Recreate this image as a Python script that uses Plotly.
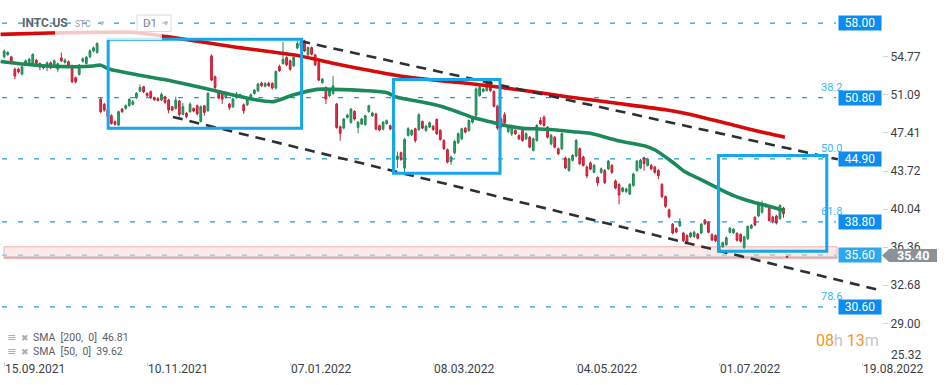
import plotly.graph_objects as go

# ---------------- data (bar index = trading day since 15.09.2021) ----------------
opens = [54.75,54.97,54.75,53.56,53.56,53.08,54.01,53.95,54.01,54.43,54.11,53.88,53.95,54.17,53.95,53.56,54.65,54.20,54.27,53.88,
         52.73,53.05,54.33,54.11,54.75,55.33,55.17,50.67,50.16,49.61,49.06,48.48,48.16,49.71,49.77,50.03,50.16,50.80,51.44,51.86,
         51.22,51.38,50.83,50.73,50.57,50.89,50.57,49.93,49.77,50.48,49.19,49.29,49.45,49.77,50.02,48.51,50.02,49.54,54.84,52.82,
         51.31,51.15,50.83,50.18,49.93,50.83,50.90,50.12,50.12,50.83,51.21,51.47,52.20,51.90,52.20,52.17,51.73,53.82,54.10,54.68,
         54.36,53.88,55.60,55.80,56.29,54.94,55.64,54.94,54.20,52.27,51.79,50.99,51.20,50.18,47.99,47.87,48.90,48.42,49.48,47.93,
         48.26,48.20,49.48,49.06,49.22,48.10,47.77,48.30,48.10,47.60,44.84,45.48,44.00,47.16,47.22,47.80,47.74,48.50,47.64,47.96,
         48.05,48.70,47.64,46.67,45.77,44.65,45.48,46.45,46.83,47.86,47.64,48.44,49.08,51.01,51.40,51.49,52.46,51.40,49.98,48.76,
         49.15,47.54,47.32,47.64,47.16,47.64,46.83,46.99,45.71,46.67,48.60,48.92,47.96,46.35,46.99,45.87,45.87,44.97,43.78,44.75,
         45.16,45.87,45.07,44.10,44.50,43.60,43.09,43.59,43.76,43.93,44.26,42.76,42.42,41.75,41.75,41.50,42.32,43.76,44.00,45.00,
         44.26,44.26,44.10,43.76,42.42,41.25,39.97,38.57,38.16,38.43,37.73,37.49,37.39,37.39,37.63,37.73,38.97,38.73,37.56,37.49,
         35.95,36.40,36.59,37.80,37.75,37.70,37.60,36.35,37.19,38.20,39.25,39.37,39.74,40.50,40.21,39.27,39.37,39.14,40.14,35.45]
highs = [55.45,55.30,54.85,53.70,53.70,53.90,54.50,54.65,55.10,54.55,54.20,54.00,54.30,54.30,54.50,54.20,55.17,54.60,54.40,54.00,
         52.85,54.05,54.70,54.85,55.45,55.75,56.15,50.80,50.30,49.70,49.20,48.60,49.55,49.80,50.15,50.75,50.60,51.35,52.08,51.95,
         51.30,51.50,50.90,50.85,51.30,51.00,50.70,50.00,50.90,50.60,50.30,49.40,50.35,49.85,50.15,50.05,50.10,51.35,55.00,52.95,
         51.45,51.25,51.40,50.30,50.80,51.35,51.20,50.25,50.80,51.20,51.65,52.25,52.35,52.30,52.35,52.30,53.45,54.00,56.20,54.80,
         54.50,54.80,56.29,56.30,56.40,55.75,55.75,55.05,54.30,52.70,51.90,51.60,52.90,50.30,48.10,48.85,49.25,49.80,49.60,48.55,
         48.85,49.15,50.12,49.45,49.35,48.20,48.55,48.70,48.20,47.70,45.60,45.60,46.90,47.95,47.75,47.90,49.30,48.60,48.20,48.50,
         48.15,48.80,47.75,46.80,45.90,45.20,46.70,47.45,47.90,47.95,48.70,48.90,51.80,52.00,51.75,52.62,52.60,51.50,50.10,48.90,
         49.40,48.15,48.20,47.75,47.25,47.75,47.45,47.10,46.95,48.25,48.92,49.10,48.05,47.30,47.10,46.00,47.45,45.10,45.00,45.35,
         46.80,46.00,45.20,44.25,44.65,44.40,43.20,44.05,43.90,44.80,44.40,42.90,42.55,42.20,42.10,42.55,43.55,44.80,44.90,45.10,
         45.00,44.40,44.20,43.90,42.55,41.35,40.10,38.70,38.30,39.17,37.85,37.60,37.85,37.95,37.75,38.70,39.10,38.85,37.70,37.60,
         36.65,36.90,37.40,38.30,38.20,37.80,37.70,37.45,38.45,38.60,39.35,40.75,40.85,40.60,40.30,39.40,39.50,40.50,40.25,35.50]
lows = [54.60,54.85,54.01,52.60,53.15,52.95,53.90,53.85,53.90,54.00,53.47,53.55,53.37,53.55,53.85,53.30,54.25,54.10,53.80,52.20,
        52.18,52.95,54.20,54.00,54.65,55.20,55.05,49.30,49.45,48.80,48.20,48.10,48.05,49.35,49.65,49.95,50.05,50.70,51.35,51.25,
        50.90,50.70,50.50,50.45,50.45,50.20,49.29,49.50,49.65,48.97,49.10,48.81,49.35,49.40,49.10,48.40,49.06,49.45,52.40,51.60,
        50.65,50.20,50.70,49.60,49.80,50.70,50.85,49.22,50.00,50.70,51.10,51.35,51.85,51.80,51.85,51.60,51.60,53.30,54.00,53.85,
        53.40,53.75,55.50,55.50,55.20,54.85,54.90,53.85,52.40,52.15,50.20,50.85,51.10,47.80,46.65,47.75,48.80,48.30,48.60,47.36,
        48.15,48.10,49.35,48.95,47.65,47.55,47.65,48.20,47.65,45.45,44.00,44.70,43.60,47.05,47.10,46.45,47.60,47.75,47.50,47.85,
        47.60,47.20,46.65,45.75,44.45,44.33,45.35,46.35,46.70,47.35,47.50,48.30,48.95,50.90,51.30,51.40,51.35,49.85,47.70,47.85,
        48.25,47.40,47.10,47.20,46.70,46.55,46.70,45.90,45.60,46.55,48.15,48.00,46.85,46.20,45.90,45.25,45.75,43.90,43.65,44.65,
        45.05,44.30,44.15,43.00,43.80,43.50,42.25,43.45,42.45,43.80,43.45,41.95,40.50,41.65,41.60,41.40,42.20,43.65,43.90,43.76,
        44.15,43.80,43.45,42.92,41.10,40.15,39.15,37.60,37.70,38.30,36.85,36.70,37.25,37.25,37.10,37.60,38.50,37.70,36.95,36.85,
        35.85,36.30,36.50,37.70,37.65,36.90,36.80,36.20,37.05,38.10,38.40,39.25,39.60,40.20,38.85,38.65,38.55,39.00,39.20,35.35]
closes = [55.30,55.17,54.36,52.89,53.30,53.79,54.36,54.52,54.97,54.11,53.79,53.69,54.17,53.69,54.36,54.08,54.36,54.43,53.88,52.34,
          52.34,53.95,54.56,54.72,55.33,55.62,56.03,49.45,49.61,48.97,48.32,48.23,49.45,49.45,50.03,50.64,50.41,51.22,51.79,51.38,
          50.99,50.80,50.60,50.54,51.12,50.35,49.61,49.61,50.57,49.19,49.93,48.97,50.16,49.51,49.25,49.93,49.38,51.21,52.50,51.79,
          50.76,50.67,51.21,49.86,50.67,51.15,51.10,49.54,50.67,51.08,51.53,52.11,51.95,52.17,51.95,51.73,53.33,53.40,54.52,53.98,
          53.56,54.68,56.03,56.20,55.32,55.64,55.00,53.98,52.50,52.59,50.67,51.47,51.95,47.93,47.36,48.74,49.12,49.70,48.74,48.42,
          48.74,49.06,50.02,49.32,47.77,47.68,48.42,48.58,47.77,45.60,45.16,44.84,46.77,47.80,47.64,46.67,49.15,47.86,48.05,48.38,
          47.74,47.32,46.77,45.87,44.58,45.07,46.58,47.32,47.80,47.48,48.60,48.76,51.65,51.81,51.65,52.36,51.49,49.98,47.86,47.96,
          48.38,48.05,48.05,47.32,46.83,46.67,47.32,46.03,46.83,48.12,48.28,48.12,46.99,47.16,46.03,45.39,47.32,44.01,44.91,45.23,
          46.67,44.42,44.26,43.25,43.90,44.26,42.59,43.93,42.59,44.67,43.59,42.08,41.41,42.08,41.98,42.42,43.43,44.67,44.77,44.43,
          44.87,43.93,43.59,43.26,41.25,40.31,39.30,37.73,37.83,38.83,36.99,36.82,37.73,37.80,37.23,38.57,38.63,37.80,37.06,36.99,
          36.52,36.80,37.26,38.20,38.10,37.03,36.93,37.36,38.37,38.47,38.50,40.61,40.61,40.30,38.94,38.87,38.70,40.38,39.60,35.40]

# SMA lines (bar index, price)
sma200_idx = [-1, 12.8, 26.8, 36, 45.5, 64, 82.8, 92, 101.5, 110.7, 120, 129.5, 138.7, 148, 157.4, 171.4, 185.4, 194.6, 203.9, 213.4, 218.4]
sma200_val = [56.92, 57.05, 57.12, 57.12, 56.70, 55.73, 54.83, 54.13, 53.48, 52.90, 52.51, 52.19, 51.81, 51.38, 50.90, 50.26, 49.61, 48.97, 48.16, 47.36, 46.98]
sma50_idx = [-1, 8.1, 17.6, 24.9, 26.8, 29.6, 36.0, 45.5, 54.8, 64.0, 69.6, 75.2, 80.8, 87.5, 92.0, 101.5, 107.1, 109.9, 117.2, 121.9,
             126.7, 131.1, 135.9, 140.7, 145.1, 149.9, 154.6, 159.1, 163.9, 171.7, 179.3, 182.1, 186.8, 190.4, 195.2, 199.7, 204.4, 209.2, 213.7, 218.4]
sma50_val = [54.30, 53.96, 53.80, 53.86, 53.96, 53.55, 53.09, 52.51, 51.81, 51.06, 50.65, 50.42, 51.06, 51.61, 51.61, 51.48, 51.29, 50.84, 50.36, 50.00,
             49.45, 48.89, 48.48, 48.07, 47.84, 47.78, 47.68, 47.52, 47.36, 46.65, 46.14, 45.75, 44.62, 43.65, 42.85, 42.05, 41.30, 40.75, 40.34, 39.88]

# x-axis labels (every 40 bars)
tick_idx = [0, 40, 80, 120, 160, 200, 240]
tick_labels = ["15.09.2021", "10.11.2021", "07.01.2022", "08.03.2022", "04.05.2022", "01.07.2022", "19.08.2022"]
ytick_vals = [54.77, 51.09, 47.41, 43.72, 40.04, 36.36, 32.68, 29.00]

# horizontal levels
levels = [58.00, 50.80, 44.90, 38.80, 35.60, 30.60]
fib_labels = {50.80: "38.2", 44.90: "50.0", 38.80: "61.8", 30.60: "78.6"}
last_price = 35.40
zone_low, zone_high = 35.25, 36.40

# rectangles (start bar, end bar, low, high)
rect_x0 = [29.1, 108.9, 199.8]
rect_x1 = [83.2, 138.7, 230.1]
rect_lo = [47.85, 43.51, 35.96]
rect_hi = [56.46, 52.57, 45.21]

# channel lines (bar, price)
upper_line = [(82.8, 56.27), (233.2, 44.85)]
lower_line = [(47.2, 48.94), (245.0, 32.20)]

sma200_last = 46.81
sma50_last = 39.62

# ---------------- figure ----------------
PW, PH = 882.0, 362.0
def pxx(x): return x / PW
def pyy(y): return 1 - y / PH

x = list(range(len(closes)))
fig = go.Figure()

fig.add_trace(go.Scatter(x=sma200_idx, y=sma200_val, mode="lines",
                         line=dict(color="#d60a0a", width=3.6, shape="spline", smoothing=0.6),
                         hoverinfo="skip", showlegend=False))
fig.add_trace(go.Scatter(x=sma50_idx, y=sma50_val, mode="lines",
                         line=dict(color="#1b8a58", width=3.6, shape="spline", smoothing=0.6),
                         hoverinfo="skip", showlegend=False))
fig.add_trace(go.Candlestick(x=x, open=opens, high=highs, low=lows, close=closes,
                             increasing=dict(line=dict(color="#1f8653", width=1), fillcolor="#2fa56d"),
                             decreasing=dict(line=dict(color="#c41d33", width=1), fillcolor="#e1364c"),
                             whiskerwidth=0, hoverinfo="skip", showlegend=False))

shapes = []
# pink zone
shapes.append(dict(type="rect", xref="paper", yref="y", x0=pxx(4), x1=pxx(837), y0=zone_low, y1=zone_high,
                   fillcolor="#fde9e7", line=dict(color="#f2b2ab", width=1), layer="below"))
# levels
for lv in levels:
    col = "#8cc3ea" if lv == 35.60 else "#1a9fe8"
    shapes.append(dict(type="line", xref="paper", yref="y", x0=pxx(2), x1=pxx(836), y0=lv, y1=lv,
                       line=dict(color=col, width=1.3, dash="5px,11px"), layer="below"))
# last price line
shapes.append(dict(type="line", xref="paper", yref="y", x0=pxx(4), x1=pxx(837), y0=last_price, y1=last_price,
                   line=dict(color="#9aa0a6", width=1), layer="below"))
# channel
for (a, b) in (upper_line, lower_line):
    shapes.append(dict(type="line", xref="x", yref="y", x0=a[0], y0=a[1], x1=b[0], y1=b[1],
                       line=dict(color="#2b3036", width=2.6, dash="10px,7px")))
# rectangles
for i in range(len(rect_x0)):
    shapes.append(dict(type="rect", xref="x", yref="y", x0=rect_x0[i], x1=rect_x1[i], y0=rect_lo[i], y1=rect_hi[i],
                       line=dict(color="#16a6ea", width=3), fillcolor="rgba(0,0,0,0)"))
# fade behind header
shapes.append(dict(type="rect", xref="paper", yref="paper", x0=pxx(55), x1=pxx(162), y0=pyy(40), y1=pyy(26),
                   fillcolor="rgba(255,255,255,0.78)", line=dict(width=0)))
# D1 box
shapes.append(dict(type="rect", xref="paper", yref="paper", x0=pxx(137), x1=pxx(171), y0=pyy(31.5), y1=pyy(15),
                   fillcolor="rgba(255,255,255,0.6)", line=dict(color="#dcdcdc", width=1)))
# grey last price tag (arrow)
path = "M {} {} L {} {} L {} {} L {} {} L {} {} Z".format(
    pxx(882), pyy(255.5), pxx(889), pyy(249), pxx(937), pyy(249), pxx(937), pyy(262), pxx(889), pyy(262))
shapes.append(dict(type="path", xref="paper", yref="paper", path=path, fillcolor="#8a9298", line=dict(width=0)))

ann = []
F = "Roboto, Arial, sans-serif"
# fib labels
for lv, t in fib_labels.items():
    ann.append(dict(x=pxx(844), y=lv, xref="paper", yref="y", xanchor="right", yanchor="bottom", yshift=2,
                    text=t, showarrow=False, font=dict(family=F, size=11, color="#3db4f2")))
# level tags
for lv in levels:
    bg = "#29a9ee" if lv == 35.60 else "#0b8cf0"
    ann.append(dict(x=pxx(838), y=lv, xref="paper", yref="y", xanchor="left", yanchor="middle",
                    text="{:.2f}".format(lv), showarrow=False, bgcolor=bg, width=40, height=12, borderpad=1,
                    align="center", font=dict(family=F, size=12, color="white")))
ann.append(dict(x=pxx(913), y=last_price, xref="paper", yref="y", xanchor="center", yanchor="middle", yshift=2,
                text="<b>{:.2f}</b>".format(last_price), showarrow=False, font=dict(family=F, size=12.5, color="white")))
# y label at bottom edge
ann.append(dict(x=pxx(889), y=pyy(355), xref="paper", yref="paper", xanchor="left", yanchor="middle",
                text="25.32", showarrow=False, font=dict(family=F, size=12, color="#3a3f44")))
# x labels
for ti, tl in zip(tick_idx, tick_labels):
    ann.append(dict(x=ti, y=pyy(369), xref="x", yref="paper", xanchor="left", yanchor="middle", xshift=-1,
                    text=tl, showarrow=False, font=dict(family=F, size=12, color="#3a3f44")))
# header
ann.append(dict(x=pxx(20), y=pyy(23.5), xref="paper", yref="paper", xanchor="left", yanchor="middle",
                text="<b>INTC.US</b>", showarrow=False, font=dict(family=F, size=12, color="#5d6670")))
ann.append(dict(x=pxx(73), y=pyy(24), xref="paper", yref="paper", xanchor="left", yanchor="middle",
                text="STC", showarrow=False, font=dict(family=F, size=8.5, color="#98a0a6")))
ann.append(dict(x=pxx(96), y=pyy(23), xref="paper", yref="paper", xanchor="left", yanchor="middle",
                text="▼", showarrow=False, font=dict(family=F, size=8, color="#b8bcc0")))
ann.append(dict(x=pxx(141), y=pyy(23.5), xref="paper", yref="paper", xanchor="left", yanchor="middle",
                text="D1", showarrow=False, font=dict(family=F, size=11.5, color="#7a8288")))
ann.append(dict(x=pxx(160), y=pyy(23), xref="paper", yref="paper", xanchor="left", yanchor="middle",
                text="▼", showarrow=False, font=dict(family=F, size=8, color="#b8bcc0")))
# legend
for row, (txt) in enumerate(["SMA  [200,  0]  {:.2f}".format(sma200_last), "SMA  [50,  0]  {:.2f}".format(sma50_last)]):
    yy = 337.5 + row * 14
    ann.append(dict(x=pxx(5), y=pyy(yy), xref="paper", yref="paper", xanchor="left", yanchor="middle",
                    text="≡", showarrow=False, font=dict(family="DejaVu Sans", size=11, color="#a9aeb2")))
    ann.append(dict(x=pxx(19), y=pyy(yy), xref="paper", yref="paper", xanchor="left", yanchor="middle",
                    text="✖", showarrow=False, font=dict(family="DejaVu Sans", size=9, color="#a9aeb2")))
    ann.append(dict(x=pxx(31), y=pyy(yy), xref="paper", yref="paper", xanchor="left", yanchor="middle",
                    text=txt, showarrow=False, font=dict(family=F, size=10.5, color="#5a6066")))
# timer
ann.append(dict(x=pxx(881), y=pyy(340), xref="paper", yref="paper", xanchor="right", yanchor="middle",
                text='<span style="color:#f7941d">08</span><span style="color:#c4c7ca">h</span> '
                     '<span style="color:#f7941d">13</span><span style="color:#c4c7ca">m</span>',
                showarrow=False, font=dict(family=F, size=16)))

fig.update_layout(
    width=949, height=385,
    margin=dict(l=0, r=67, t=0, b=23),
    paper_bgcolor="white", plot_bgcolor="white",
    shapes=shapes, annotations=ann,
    showlegend=False,
    xaxis=dict(range=[-1.161, 245.55], showgrid=False, zeroline=False, showline=False,
               rangeslider=dict(visible=False), tickvals=tick_idx, ticktext=[""] * len(tick_idx),
               ticks="outside", ticklen=3, tickcolor="#d0d0d0", fixedrange=True, automargin=False),
    yaxis=dict(range=[25.27, 60.24], side="right", showgrid=False, zeroline=False, showline=False,
               tickvals=ytick_vals, ticktext=["{:.2f}".format(v) for v in ytick_vals],
               ticks="outside", ticklen=5, tickcolor="#d0d0d0", automargin=False,
               tickfont=dict(family=F, size=12, color="#3a3f44"), fixedrange=True),
)

fig.write_html("out.html", config={"displayModeBar": False},
               post_script="document.body.style.margin='0';document.body.style.overflow='hidden';")
